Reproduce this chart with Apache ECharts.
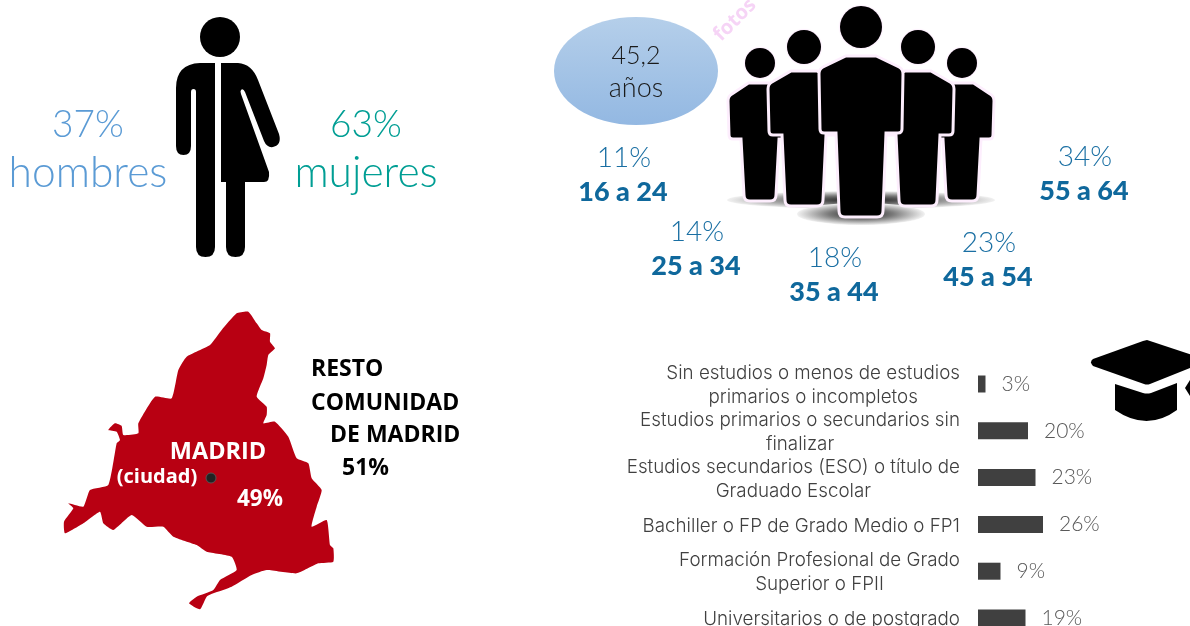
<!DOCTYPE html>
<html>
<head>
<meta charset="utf-8">
<title>Perfil</title>
<style>
  html, body { margin: 0; padding: 0; background: #fff; overflow: hidden; }
  #chart { width: 1190px; height: 626px; }
</style>
<script src="https://cdn.jsdelivr.net/npm/echarts@6/dist/echarts.min.js"></script>
</head>
<body>
<div id="chart"></div>
<script>
// datos
const studyLevels = [
  'Sin estudios o menos de estudios\nprimarios o incompletos',
  'Estudios primarios o secundarios sin\nfinalizar',
  'Estudios secundarios (ESO) o título de\nGraduado Escolar',
  'Bachiller o FP de Grado Medio o FP1',
  'Formación Profesional de Grado\nSuperior o FPII',
  'Universitarios o de postgrado'
]
const studyValues = [3, 20, 23, 26, 9, 19]
const genderLabels = ['hombres', 'mujeres']
const genderValues = [37, 63]
const ageLabels = ['16 a 24', '25 a 34', '35 a 44', '45 a 54', '55 a 64']
const ageValues = [11, 14, 18, 23, 34]
const averageAge = '45,2'
const cityShare = 49
const restShare = 51

// colocación
const agePositions = [[624, 158], [697, 232], [835, 258], [989, 243], [1085, 157]]
const genderPositions = [[88, 124], [366, 124]]
const genderColors = ['#5b9bd5', '#009e94']
const LIGHT = '"Lato", "Noto Sans", sans-serif'
const BOLD = '"Lato", "Noto Sans", sans-serif'
const SANS = '"Open Sans", "Noto Sans", sans-serif'
const AXIS = '"Inter", "Lato", sans-serif'

// contorno de la Comunidad de Madrid (trazado a mano, coordenadas del recorte)
const mapOutline = [[625,35],[650,70],[665,90],[690,100],[690,125],[705,145],[685,165],[680,195],[670,235],[650,290],[680,320],[680,345],[670,370],[705,365],[745,410],[770,475],[805,490],[815,535],[845,570],[830,620],[815,680],[860,660],[870,735],[880,745],[880,785],[835,790],[770,820],[680,810],[635,825],[575,860],[520,880],[500,890],[480,928],[447,910],[470,890],[520,870],[540,840],[590,810],[575,770],[500,755],[470,735],[400,710],[370,680],[320,680],[275,645],[220,690],[190,670],[180,635],[130,670],[75,700],[72,665],[100,625],[85,610],[130,620],[150,570],[205,555],[230,430],[240,420],[230,395],[205,390],[225,370],[245,378],[250,405],[295,400],[295,370],[345,290],[395,295],[415,210],[440,170],[510,135],[545,90],[590,40]]
  .map(p => [40 + p[0] / 3, 300 + p[1] / 3])

const label = (text, x, y, size, color, weight, family, align) => ({
  type: 'text',
  z: 20,
  style: {
    text, x, y,
    fill: color,
    font: `${weight} ${size}px ${family}`,
    textAlign: align || 'center',
    textVerticalAlign: 'middle'
  }
})

// el componente graphic no acepta pathData directamente: se registra cada forma
let shapeCount = 0
const pathShape = (pathData, z, style) => {
  const name = 'iconShape' + shapeCount++
  echarts.graphic.registerShape(name, echarts.graphic.extendPath(pathData))
  return { type: name, z, style }
}

// silueta de una persona del grupo
const personPath = (cx, top, half, armY, legHalf, bottom) => {
  const l = cx - half, r = cx + half
  return `M${cx - half * 0.36} ${top} L${cx + half * 0.36} ${top} L${r - 4} ${top + 11} Q${r} ${top + 13} ${r} ${top + 18}`
    + ` L${r - 1} ${armY - 4} Q${r - 1} ${armY} ${r - 5} ${armY} L${cx + legHalf} ${armY}`
    + ` L${cx + legHalf - 3} ${bottom - 6} Q${cx + legHalf - 3} ${bottom} ${cx + legHalf - 9} ${bottom}`
    + ` L${cx - legHalf + 9} ${bottom} Q${cx - legHalf + 3} ${bottom} ${cx - legHalf + 3} ${bottom - 6}`
    + ` L${cx - legHalf} ${armY} L${l + 5} ${armY} Q${l + 1} ${armY} ${l + 1} ${armY - 4} L${l} ${top + 18} Q${l} ${top + 13} ${l + 4} ${top + 11} Z`
}

const crowd = [
  { cx: 760, hy: 63, r: 15, top: 83, half: 32, armY: 139, legHalf: 19, bottom: 201 },
  { cx: 962, hy: 63, r: 15, top: 83, half: 32, armY: 139, legHalf: 19, bottom: 201 },
  { cx: 804, hy: 47, r: 17, top: 71, half: 36, armY: 135, legHalf: 22, bottom: 206 },
  { cx: 918, hy: 47, r: 17, top: 71, half: 36, armY: 135, legHalf: 22, bottom: 206 },
  { cx: 861, hy: 27, r: 21, top: 56, half: 42, armY: 133, legHalf: 25, bottom: 217 }
]

// sombra elíptica: círculo aplastado para que el degradado radial siga la elipse
const shadow = (cx, cy, rx, ry) => ({
  type: 'circle',
  z: 1,
  x: cx,
  y: cy,
  scaleY: ry / rx,
  shape: { cx: 0, cy: 0, r: rx },
  style: {
    fill: new echarts.graphic.RadialGradient(0.5, 0.5, 0.5, [
      { offset: 0, color: '#1c1c1c' },
      { offset: 0.5, color: '#7a7a7a' },
      { offset: 1, color: '#f2f2f2' }
    ])
  }
})

const crowdGraphics = [shadow(861, 200, 134, 9), shadow(861, 214, 64, 11)]
crowd.forEach((p, i) => {
  crowdGraphics.push(pathShape(
    personPath(p.cx, p.top, p.half, p.armY, p.legHalf, p.bottom),
    5 + i,
    { fill: '#000', stroke: '#fdeefd', lineWidth: 3 }
  ))
  crowdGraphics.push({
    type: 'circle', z: 5 + i,
    shape: { cx: p.cx, cy: p.hy, r: p.r },
    style: { fill: '#000', shadowBlur: 2, shadowColor: '#f3c8f3' }
  })
})

const graphics = [
  // figura hombre / mujer
  { type: 'circle', z: 5, shape: { cx: 220, cy: 37, r: 20 }, style: { fill: '#000' } },
  pathShape('M215 63 L200 63 Q176 64 176 88 L176 146 Q176 155 183.5 155 Q191 155 191 146 L191 92 Q191 89 193.5 89 Q196 89 196 92 L196 247 Q196 257 205.5 257 Q215 257 215 247 Z', 5, { fill: '#000' }),
  pathShape('M221 63 L238 63 Q252 64 258 80 L279 134 Q282 145 273 147 Q267 148 264 141 L245 92 Q243 88 241 90 Q240 91 241 94 L269 172 Q270 182 264 182 L245 182 L245 247 Q245 257 235.5 257 Q226 257 226 247 L226 182 L221 182 Z', 5, { fill: '#000' }),

  // grupo de edades
  {
    type: 'ellipse', z: 3,
    shape: { cx: 636, cy: 71, rx: 82, ry: 54 },
    style: {
      fill: new echarts.graphic.LinearGradient(0, 0, 0, 1, [
        { offset: 0, color: '#b5cfea' },
        { offset: 1, color: '#93b8e2' }
      ])
    }
  },
  label(averageAge, 636, 56, 25, '#1a1a1a', 300, LIGHT),
  label('años', 636, 88, 27, '#1a1a1a', 300, LIGHT),
  {
    type: 'text', z: 2, rotation: Math.PI / 4, x: 735, y: 20,
    style: { text: 'fotos', fill: '#f6d4f6', font: `700 20px ${SANS}`, textAlign: 'center', textVerticalAlign: 'middle' }
  },
  ...crowdGraphics,

  // mapa
  { type: 'polygon', z: 3, shape: { points: mapOutline, smooth: 0.15 }, style: { fill: '#b80012' } },
  { type: 'circle', z: 6, shape: { cx: 211, cy: 478, r: 5 }, style: { fill: '#222', stroke: '#555', lineWidth: 1 } },
  label('MADRID', 218, 452, 23.5, '#fff', 700, SANS),
  label('(ciudad)', 157, 477, 20, '#fff', 700, SANS),
  label(cityShare + '%', 260, 500, 22.5, '#fff', 700, SANS),
  label('RESTO', 311, 369, 23, '#000', 700, SANS, 'left'),
  label('COMUNIDAD', 311, 403, 23, '#000', 700, SANS, 'left'),
  label('DE MADRID', 330, 435, 23, '#000', 700, SANS, 'left'),
  label(restShare + '%', 342, 468, 23, '#000', 700, SANS, 'left'),

  // birrete
  pathShape('M1147 340 L1195 356 L1195 366 L1150 384 Q1147 385 1144 384 L1093 366 Q1089 362 1093 359 L1143 341 Z', 5, { fill: '#000' }),
  pathShape('M1115 384 L1143 393 Q1147 394 1151 393 L1177 383 L1177 410 Q1147 432 1115 410 Z', 5, { fill: '#000' }),
  { type: 'polygon', z: 5, shape: { points: [[1190, 380], [1185, 388], [1190, 396]] }, style: { fill: '#000' } }
]

genderValues.forEach((v, i) => {
  const [x, y] = genderPositions[i]
  graphics.push(label(v + '%', x, y + 1, 37, genderColors[i], 300, LIGHT))
  graphics.push(label(genderLabels[i], x, y + 49, 42.5, genderColors[i], 300, LIGHT))
})

ageValues.forEach((v, i) => {
  const [x, y] = agePositions[i]
  graphics.push(label(v + '%', x, y, 28, '#1a6fa3', 300, LIGHT))
  graphics.push(label(ageLabels[i], x - 1, y + 34, 27, '#0f689c', 900, BOLD))
})

const chart = echarts.init(document.getElementById('chart'))

const option = {
  animation: false,
  grid: { left: 978, top: 360.6, width: 100, height: 280.8, outerBoundsMode: 'none' },
  xAxis: { type: 'value', min: 0, max: 40, show: false },
  yAxis: {
    type: 'category',
    inverse: true,
    data: studyLevels,
    axisLine: { show: false },
    axisTick: { show: false },
    axisLabel: {
      margin: 18,
      interval: 0,
      padding: [3, 0, 0, 0],
      formatter: v => v.split('\n').map(s => `{a|${s}}`).join('\n'),
      rich: {
        a: { fontFamily: AXIS, fontWeight: 300, fontSize: 18.8, lineHeight: 24, color: '#404040', align: 'center' }
      }
    }
  },
  series: [
    {
      type: 'bar',
      data: studyValues,
      barWidth: 17,
      itemStyle: { color: '#404040' },
      label: {
        show: true,
        position: 'right',
        distance: 16,
        formatter: '{c}%',
        fontFamily: LIGHT,
        fontWeight: 300,
        fontSize: 21,
        color: '#595959'
      }
    }
  ],
  graphic: { elements: graphics }
}

chart.setOption(option)
</script>
</body>
</html>
